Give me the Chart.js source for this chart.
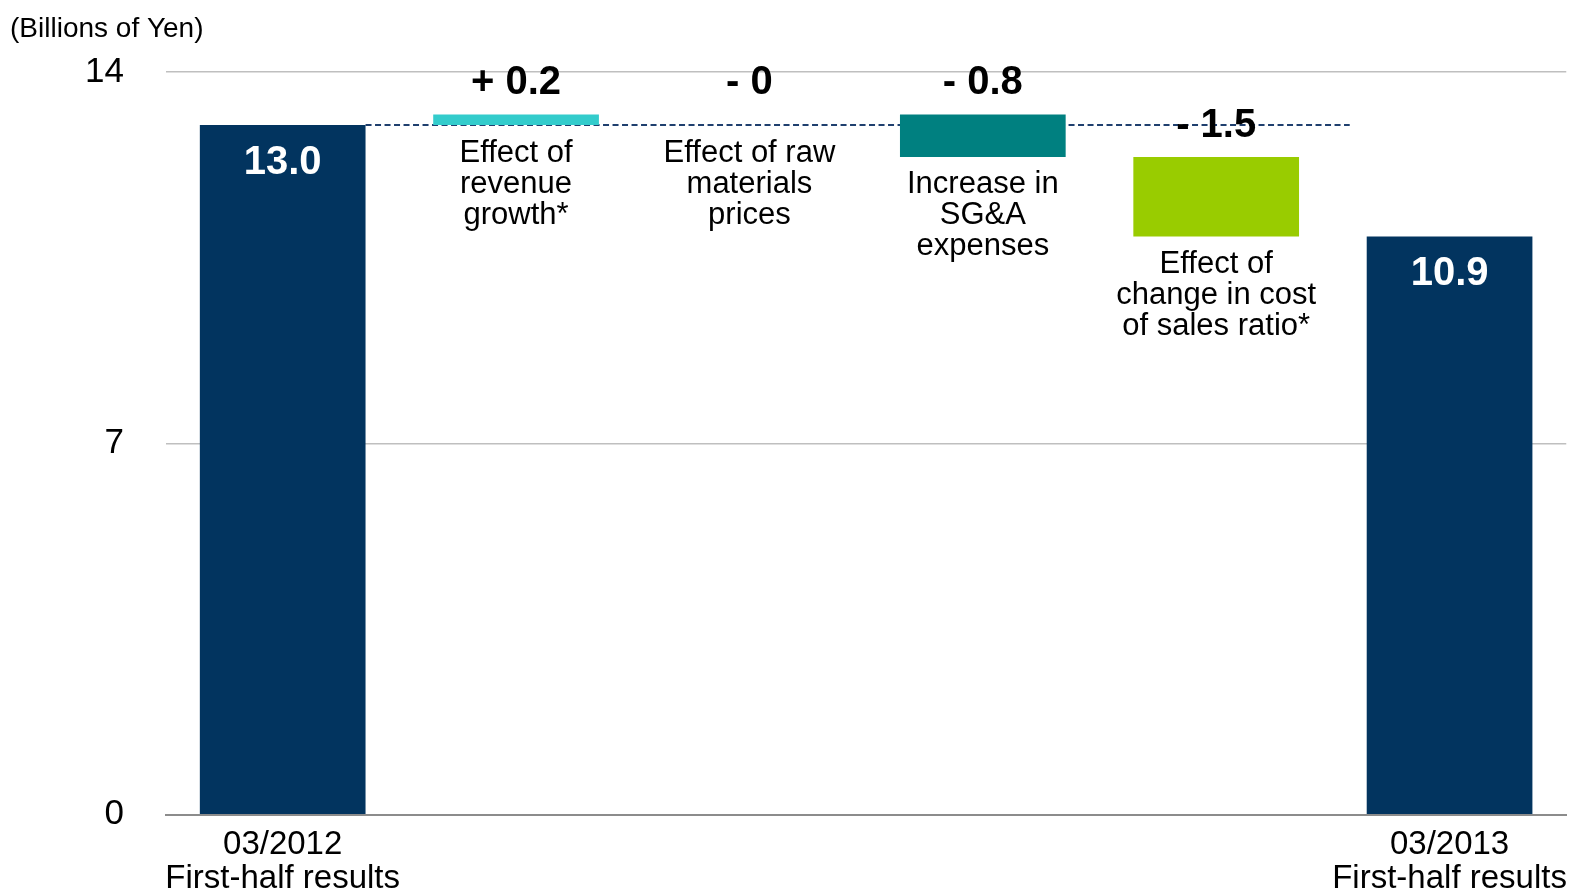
<!DOCTYPE html>
<html>
<head>
<meta charset="utf-8">
<title>Operating income bridge</title>
<script src="https://cdn.jsdelivr.net/npm/chart.js@4/dist/chart.umd.min.js"></script>
<style>
  html, body { margin: 0; padding: 0; background: #ffffff; }
  #wrap { width: 1581px; height: 894px; position: relative; }
</style>
</head>
<body>
<div id="wrap"><canvas id="chart"></canvas></div>
<script>
// Bridge from first-half 2012 result to first-half 2013 result (billions of yen)
const categories = [
  ['03/2012', 'First-half results'],
  ['Effect of', 'revenue', 'growth*'],
  ['Effect of raw', 'materials', 'prices'],
  ['Increase in', 'SG&A', 'expenses'],
  ['Effect of', 'change in cost', 'of sales ratio*'],
  ['03/2013', 'First-half results']
];
const startTotal = 13.0;
const changes = [0.2, -0, -0.8, -1.5];
const endTotal = 10.9;
const yTicks = [0, 7, 14];

const FONT = '"Liberation Sans", Arial, Helvetica, sans-serif';
const NAVY = '#02345f';
const barColors = [NAVY, '#33cccc', '#008080', '#008080', '#99cc00', NAVY];

// Floating [low, high] ranges for each column of the bridge
const ranges = [[0, startTotal]];
let running = startTotal;
changes.forEach(d => {
  const next = Math.round((running + d) * 10) / 10;
  ranges.push([Math.min(running, next), Math.max(running, next)]);
  running = next;
});
ranges.push([0, endTotal]);

function changeText(v) {
  const neg = v < 0 || Object.is(v, -0);
  const a = Math.abs(v);
  return (neg ? '- ' : '+ ') + (a === 0 ? '0' : a.toFixed(1));
}

const bridgeDecor = {
  id: 'bridgeDecor',
  beforeDatasetsDraw(chart) {
    const { ctx } = chart;
    const y = chart.scales.y;
    const bars = chart.getDatasetMeta(0).data;
    const yy = y.getPixelForValue(startTotal);
    const x0 = bars[0].x + bars[0].width / 2;
    const x1 = bars[5].x - bars[5].width / 2 - 17;
    ctx.save();
    ctx.strokeStyle = '#1f3f6e';
    ctx.lineWidth = 2;
    ctx.setLineDash([6, 3.5]);
    ctx.beginPath();
    ctx.moveTo(x0, yy);
    ctx.lineTo(x1, yy);
    ctx.stroke();
    ctx.restore();
  },
  afterDatasetsDraw(chart) {
    const { ctx } = chart;
    const y = chart.scales.y;
    const bars = chart.getDatasetMeta(0).data;
    ctx.save();
    ctx.textAlign = 'center';
    ctx.textBaseline = 'middle';

    // totals inside the end bars
    ctx.fillStyle = '#ffffff';
    ctx.font = 'bold 40px ' + FONT;
    [0, 5].forEach(i => {
      const v = ranges[i][1];
      ctx.fillText(v.toFixed(1), bars[i].x, y.getPixelForValue(v) + 38);
    });

    // change amounts above, names below each floating bar
    changes.forEach((d, k) => {
      const i = k + 1;
      const [lo, hi] = ranges[i];
      ctx.fillStyle = '#000000';
      ctx.font = 'bold 40px ' + FONT;
      ctx.fillText(changeText(d), bars[i].x, y.getPixelForValue(hi) - 31);

      ctx.font = '31px ' + FONT;
      const top = y.getPixelForValue(Math.min(lo, startTotal)) + 28;
      categories[i].forEach((line, j) => {
        ctx.fillText(line, bars[i].x, top + j * 31);
      });
    });

    // unit caption
    ctx.textAlign = 'left';
    ctx.font = '28px ' + FONT;
    ctx.fillText('(Billions of Yen)', 10, 29);
    ctx.restore();
  }
};

new Chart(document.getElementById('chart'), {
  type: 'bar',
  data: {
    labels: categories,
    datasets: [{
      data: ranges,
      backgroundColor: barColors,
      borderWidth: 0,
      categoryPercentage: 1,
      barPercentage: 0.71
    }]
  },
  options: {
    responsive: true,
    maintainAspectRatio: false,
    animation: false,
    devicePixelRatio: 1,
    layout: { padding: { top: 72, right: 13, left: 0, bottom: 0 } },
    plugins: { legend: { display: false }, tooltip: { enabled: false }, title: { display: false } },
    scales: {
      x: {
        grid: { display: false, drawTicks: false, tickLength: 0 },
        border: { display: true, color: '#8c8c8c', width: 2 },
        ticks: {
          autoSkip: false,
          maxRotation: 0,
          minRotation: 0,
          padding: 13,
          color: '#000000',
          font: { family: FONT, size: 33, lineHeight: 1.03 },
          callback: (v, i) => (i === 0 || i === categories.length - 1) ? categories[i] : ''
        },
        afterFit: s => { s.height = 79.3; }
      },
      y: {
        min: 0,
        max: 14,
        afterBuildTicks: s => { s.ticks = yTicks.map(v => ({ value: v })); },
        grid: {
          drawTicks: false,
          tickLength: 0,
          color: ctx => ctx.tick && ctx.tick.value === 0 ? 'rgba(0,0,0,0)' : '#bfbfbf',
          lineWidth: 1.5
        },
        border: { display: false },
        ticks: {
          padding: 42,
          color: '#000000',
          font: { family: FONT, size: 35 }
        },
        afterFit: s => { s.width = 166; }
      }
    }
  },
  plugins: [bridgeDecor]
});
</script>
</body>
</html>
